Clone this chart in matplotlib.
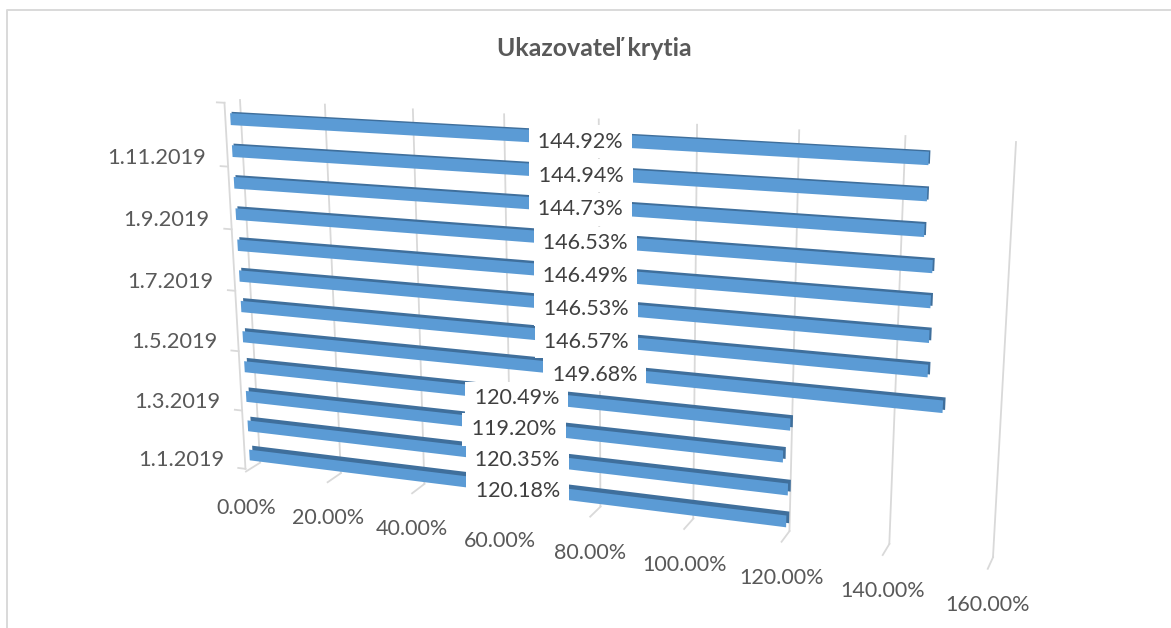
#!/usr/bin/env python

import numpy as np
import matplotlib
matplotlib.use('Agg')
import matplotlib.pyplot as plt
from matplotlib.transforms import Transform

plt.rcParams['font.family'] = ['Lato', 'DejaVu Sans']

W, H = 1171, 628

# bottom to top, one bar per month of 2019
months = ['1.%d.2019' % m for m in range(1, 13)]
values = [120.18, 120.35, 119.20, 120.49, 149.68, 146.57,
          146.53, 146.49, 146.53, 144.73, 144.94, 144.92]
value_ticks = [0, 20, 40, 60, 80, 100, 120, 140, 160]


class Projection(Transform):
    # homography from chart coordinates to pixels, this is the fake 3D view
    input_dims = 2
    output_dims = 2
    is_separable = False

    def __init__(self, src, dst):
        super().__init__()
        rows = []
        rhs = []
        for (x, y), (px, py) in zip(src, dst):
            py = H - py
            rows.append([x, y, 1, 0, 0, 0, -px * x, -px * y])
            rows.append([0, 0, 0, x, y, 1, -py * x, -py * y])
            rhs += [px, py]
        sol = np.linalg.lstsq(np.array(rows, float), np.array(rhs, float), rcond=None)[0]
        self.m = np.append(sol, 1).reshape(3, 3)

    def transform_non_affine(self, pts):
        pts = np.asarray(pts, float)
        h = np.column_stack([pts, np.ones(len(pts))]) @ self.m.T
        return h[:, :2] / h[:, 2:]


# bar front faces, pixel spots
src = [(0, 0), (0, 3), (0, 7), (0, 11),
       (values[0], 0), (values[1], 1), (values[2], 2), (values[3], 3), (values[4], 4),
       (values[8], 8), (values[9], 9), (values[10], 10), (values[11], 11)]
dst = [(249, 455), (245, 367), (238, 245), (230, 119),
       (786, 521), (788, 490), (783, 456), (790, 425), (943, 407),
       (933, 266), (925, 230), (927, 195), (928, 159)]
front = Projection(src, dst)
# same bars pushed back a little, shows as the dark top and end
back = Projection(src, [(px + 3 - 1.5 * s[1] / 11, py - 4 + 2.6 * s[1] / 11)
                        for s, (px, py) in zip(src, dst)])
# back wall and floor of the chart box
wall = Projection([(0, 0), (0, 1), (160, 0), (160, 1)],
                  [(260, 462), (240, 100), (993, 557), (1016, 142)])
floor = Projection([(0, 0), (120, 0), (140, 0), (160, 0), (0, 1), (120, 1), (140, 1), (160, 1)],
                   [(260, 462), (790, 532), (889, 544), (993, 557),
                    (246, 472), (781, 542), (883, 555), (988, 568)])

fig = plt.figure(figsize=(W / 100, H / 100), dpi=100)
ax = fig.add_axes([0, 0, 1, 1])
ax.axis('off')

idx = np.arange(len(values))

# chart border, only top and left are in the picture
ax.plot([7, 7, W], [0, H - 10, H - 10], color='#d9d9d9', lw=1.4, transform=None)

for v in value_ticks:
    ax.plot([v, v], [0, 1], color='#d9d9d9', lw=1.3, transform=wall, zorder=1)
    ax.plot([v, v], [0, 1], color='#d9d9d9', lw=1.3, transform=floor, zorder=1)
    ax.annotate('%.2f%%' % v, xy=(v, 1), xycoords=floor, xytext=(0, -26),
                textcoords='offset points', ha='center', va='center',
                fontsize=15.5, color='#595959')

# left axis with ticks between the months
ax.plot([-1.2, -1.2], [-0.5, 11.5], color='#d9d9d9', lw=1.3, transform=front, zorder=1)
for c in np.arange(-0.5, 12, 2):
    ax.plot([-1.2, -3], [c, c], color='#d9d9d9', lw=1.3, transform=front, zorder=1)

for i in idx[::2]:
    ax.annotate(months[i], xy=(-6.3, i), xycoords=front, xytext=(0, -6),
                textcoords='offset points', ha='right', va='center',
                fontsize=15.7, color='#595959')

ax.barh(idx, values, height=0.37, color='#3f6f9c', transform=back, zorder=2)
ax.barh(idx, values, height=0.37, color='#5b9bd5', transform=front, zorder=3)

# labels do not sit exactly at half of the bar in the perspective view
for i in idx:
    ax.annotate('\u2009%.2f%%\u2009' % values[i], xy=(0.58 * values[i] - 6.6, i), xycoords=front,
                xytext=(0, -2), textcoords='offset points',
                ha='center', va='center', fontsize=15.5, color='#404040', zorder=4,
                bbox=dict(boxstyle='square,pad=0.3', fc='white', ec='none'))

ax.text(594 / W, 1 - 49 / H, 'Ukazovateľ krytia', transform=fig.transFigure,
        ha='center', va='center', fontsize=17.9, fontweight='bold', color='#595959')

ax.set_xlim(0, W)
ax.set_ylim(0, H)
plt.savefig('out.png', dpi=100)
